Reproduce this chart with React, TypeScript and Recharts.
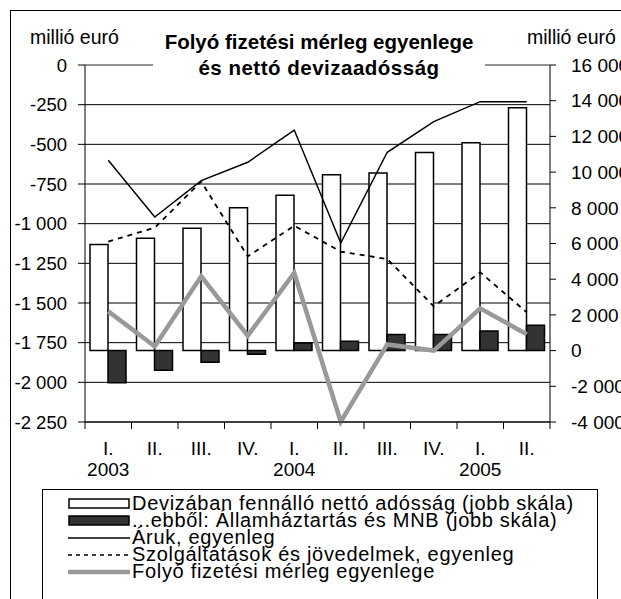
import React from "react";
import {
  ComposedChart,
  Bar,
  Line,
  XAxis,
  YAxis,
  CartesianGrid,
  ReferenceLine,
} from "recharts";

const quarters = ["I.", "II.", "III.", "IV.", "I.", "II.", "III.", "IV.", "I.", "II."];
const years = ["2003", "", "", "", "2004", "", "", "", "2005", ""];

// right scale
const netDebt = [5950, 6300, 6850, 8000, 8700, 9850, 9950, 11100, 11650, 13600];
const govMnb = [-1800, -1100, -650, -200, 430, 520, 900, 900, 1100, 1420];

// left scale
const goods = [-600, -958, -729, -613, -410, -1122, -550, -357, -231, -231];
const services = [-1113, -1025, -735, -1206, -1013, -1176, -1223, -1521, -1307, -1559];
const currentAccount = [-1553, -1773, -1332, -1706, -1311, -2248, -1761, -1800, -1534, -1697];

const leftTicks = [0, -250, -500, -750, -1000, -1250, -1500, -1750, -2000, -2250];
const rightTicks = [16000, 14000, 12000, 10000, 8000, 6000, 4000, 2000, 0, -2000, -4000];

const data = quarters.map((q, i) => ({
  key: i,
  q,
  year: years[i],
  netDebt: netDebt[i],
  govMnb: govMnb[i],
  goods: goods[i],
  services: services[i],
  currentAccount: currentAccount[i],
}));

const FONT = "Arial, 'Liberation Sans', sans-serif";
const W = 621;
const H = 599;
const LEFT_W = 85;
const RIGHT_W = 71;
const BAND = (W - LEFT_W - RIGHT_W) / quarters.length;
const GRAY = "#999999";
const DARK = "#333333";

const fmt = (v: number) => {
  const s = Math.abs(v).toString().replace(/\B(?=(\d{3})+(?!\d))/g, " ");
  return (v < 0 ? "-" : "") + s;
};

const QuarterTick = (props: any) => {
  const { x, y, payload, index } = props;
  const i = typeof payload.value === "number" ? payload.value : index;
  const d = data[i];
  const last = i === data.length - 1;
  return (
    <g>
      <line x1={x - BAND / 2} x2={x - BAND / 2} y1={y} y2={y + 7} stroke="#000" />
      {last && <line x1={x + BAND / 2} x2={x + BAND / 2} y1={y} y2={y + 7} stroke="#000" />}
      <text x={x} y={y + 33} textAnchor="middle" fontSize={19} fontFamily={FONT} fill="#000">
        {d ? d.q : ""}
      </text>
      {d && d.year && (
        <text x={x} y={y + 54} textAnchor="middle" fontSize={19} fontFamily={FONT} fill="#000">
          {d.year}
        </text>
      )}
    </g>
  );
};

const legendItems = [
  { label: "Devizában fennálló nettó adósság (jobb skála)", kind: "white" },
  { label: "...ebből: Államháztartás és MNB (jobb skála)", kind: "dark" },
  { label: "Áruk, egyenleg", kind: "line" },
  { label: "Szolgáltatások és jövedelmek, egyenleg", kind: "dash" },
  { label: "Folyó fizetési mérleg egyenlege", kind: "gray" },
];

const Swatch = ({ kind }: { kind: string }) => (
  <svg width={62} height={14} style={{ display: "block", flex: "none" }}>
    {kind === "white" && <rect x={1} y={2} width={60} height={9} fill="#fff" stroke="#000" strokeWidth={1.5} />}
    {kind === "dark" && <rect x={1} y={2} width={60} height={9} fill={DARK} stroke="#000" strokeWidth={1.5} />}
    {kind === "line" && <line x1={0} x2={62} y1={7} y2={7} stroke="#000" strokeWidth={1.5} />}
    {kind === "dash" && <line x1={0} x2={62} y1={7} y2={7} stroke="#000" strokeWidth={1.5} strokeDasharray="4 4" />}
    {kind === "gray" && <line x1={0} x2={62} y1={7} y2={7} stroke={GRAY} strokeWidth={4.5} />}
  </svg>
);

export default function App() {
  return (
    <div
      style={{
        position: "absolute",
        left: 0,
        top: 0,
        width: W,
        height: H,
        overflow: "hidden",
        background: "#fff",
        fontFamily: FONT,
      }}
    >
      <div
        style={{
          position: "absolute",
          left: 10,
          top: 10,
          width: W,
          height: H,
          border: "1.5px solid #000",
        }}
      />
      <ComposedChart
        width={W}
        height={H}
        data={data}
        margin={{ top: 65, right: 0, left: 0, bottom: 117 }}
        barSize={18}
        barGap={0}
        style={{ position: "absolute", left: 0, top: 0 }}
      >
        <CartesianGrid yAxisId="left" vertical={false} stroke="#000" strokeWidth={1} />
        <XAxis
          dataKey="key"
          height={60}
          tick={<QuarterTick />}
          tickLine={false}
          tickSize={0}
          tickMargin={0}
          interval={0}
          axisLine={{ stroke: "#000" }}
        />
        <YAxis
          yAxisId="left"
          width={LEFT_W}
          domain={[-2250, 0]}
          ticks={leftTicks}
          interval={0}
          tickFormatter={fmt}
          tickSize={7}
          tickMargin={11}
          axisLine={{ stroke: "#000" }}
          tickLine={{ stroke: "#000" }}
          tick={{ fill: "#000", fontSize: 18.5, fontFamily: FONT }}
        />
        <YAxis
          yAxisId="right"
          orientation="right"
          width={RIGHT_W}
          domain={[-4000, 16000]}
          ticks={rightTicks}
          interval={0}
          tickFormatter={fmt}
          tickSize={6}
          tickMargin={15}
          axisLine={{ stroke: "#000" }}
          tickLine={{ stroke: "#000" }}
          tick={{ fill: "#000", fontSize: 19, fontFamily: FONT }}
        />
        <ReferenceLine yAxisId="left" y={0} stroke={GRAY} strokeWidth={1.5} />
        <Bar yAxisId="right" dataKey="netDebt" fill="#fff" stroke="#000" strokeWidth={1.5} isAnimationActive={false} />
        <Bar yAxisId="right" dataKey="govMnb" fill={DARK} stroke="#000" strokeWidth={1.5} isAnimationActive={false} />
        <Line yAxisId="left" dataKey="goods" stroke="#000" strokeWidth={1.5} dot={false} isAnimationActive={false} />
        <Line
          yAxisId="left"
          dataKey="services"
          stroke="#000"
          strokeWidth={1.8}
          strokeDasharray="5 5"
          dot={false}
          isAnimationActive={false}
        />
        <Line yAxisId="left" dataKey="currentAccount" stroke={GRAY} strokeWidth={4.5} dot={false} isAnimationActive={false} />
      </ComposedChart>

      <div style={{ position: "absolute", left: 30, top: 27, fontSize: 19.5, lineHeight: "20px" }}>millió euró</div>
      <div style={{ position: "absolute", left: 527, top: 27, fontSize: 19.5, lineHeight: "20px", whiteSpace: "nowrap" }}>
        millió euró
      </div>

      <div
        style={{
          position: "absolute",
          left: 153,
          width: 332,
          top: 29,
          background: "#fff",
          textAlign: "center",
          fontWeight: "bold",
          fontSize: 20.5,
          lineHeight: "26px",
          paddingBottom: 4,
        }}
      >
        <div>Folyó fizetési mérleg egyenlege</div>
        <div style={{ letterSpacing: 0.5 }}>és nettó devizaadósság</div>
      </div>

      <div
        style={{
          position: "absolute",
          left: 42,
          top: 489,
          width: 556,
          height: 140,
          border: "1px solid #000",
          boxSizing: "border-box",
          paddingTop: 5,
          paddingLeft: 25,
        }}
      >
        {legendItems.map((it) => (
          <div key={it.label} style={{ display: "flex", alignItems: "center", height: 17, whiteSpace: "nowrap" }}>
            <Swatch kind={it.kind} />
            <span style={{ fontSize: 20, lineHeight: "17px", marginLeft: 2, letterSpacing: 0.7 }}>{it.label}</span>
          </div>
        ))}
      </div>
    </div>
  );
}
